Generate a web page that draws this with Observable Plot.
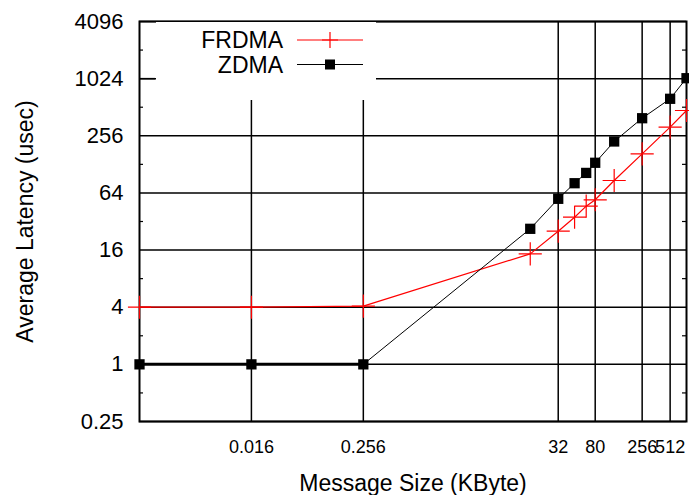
<!DOCTYPE html>
<html><head><meta charset="utf-8">
<script src="https://cdn.jsdelivr.net/npm/d3@7"></script>
<script src="https://cdn.jsdelivr.net/npm/@observablehq/plot@0.6"></script>
<style>
body{margin:0;background:#fff;}
#wrap{position:relative;width:689px;height:495px;font-family:"Liberation Sans",Arial,sans-serif;}
#legend{position:absolute;left:156px;top:22px;}
</style></head><body><div id="wrap"></div>
<script>
// Data (message size in KByte, average latency in usec)
const sizesKB = [0.001, 0.016, 0.256, 16, 32, 48, 64, 80, 128, 256, 512, 768];
const frdma = [4, 4, 4.1, 14.6, 25.3, 35.5, 46.4, 54.2, 86.5, 165, 316, 473];
const zdma = [1, 1, 1, 26.8, 55.5, 81, 104, 133, 223, 392, 628, 1035];
const xTicks = [0.016, 0.256, 32, 80, 256, 512];
const yTicks = [0.25, 1, 4, 16, 64, 256, 1024, 4096];
const yMinor = [0.5, 2, 8, 32, 128, 512, 2048];
const yMajorTickShown = [1024];
const seriesNames = ["FRDMA", "ZDMA"];
const seriesColors = ["#ff0000", "#000000"];

const W = 689, H = 495, mL = 139, mR = 3, mT = 21, mB = 74;
const fw = W - mL - mR;
const rowsF = sizesKB.map((x, i) => ({x, y: frdma[i]}));
const rowsZ = sizesKB.map((x, i) => ({x, y: zdma[i]}));
const font = "Liberation Sans, Arial, sans-serif";

const chart = Plot.plot({
  width: W, height: H,
  marginLeft: mL, marginRight: mR, marginTop: mT, marginBottom: mB,
  style: {fontFamily: font, color: "#000", background: "#fff", overflow: "visible"},
  x: {type: "log", domain: [0.001, 768], axis: null},
  y: {type: "log", base: 2, domain: [0.25, 4096]},
  marks: [
    Plot.gridX(xTicks, {stroke: "#000", strokeOpacity: 1, strokeWidth: 1.5}),
    Plot.gridY(yTicks, {stroke: "#000", strokeOpacity: 1, strokeWidth: 1.5}),
    Plot.tickY(yMinor, {y: d => d, insetRight: fw - 4, stroke: "#000", strokeWidth: 1.2}),
    Plot.tickY(yMinor, {y: d => d, insetLeft: fw - 4, stroke: "#000", strokeWidth: 1.2}),
    Plot.tickY(yMajorTickShown, {y: d => d, insetRight: fw - 16, stroke: "#000", strokeWidth: 1.5}),
    Plot.frame({stroke: "#000", strokeWidth: 2}),
    Plot.text(xTicks, {x: d => d, frameAnchor: "bottom", dy: 19, lineAnchor: "top", text: d => String(d), fontSize: 18, fill: "#000"}),
    Plot.axisY({ticks: yTicks, tickSize: 0, tickPadding: 16, tickFormat: d => String(d), fontSize: 22, label: null}),
    Plot.text(["Message Size (KByte)"], {frameAnchor: "bottom", dy: 69, lineAnchor: "bottom", fontSize: 23, fill: "#000"}),
    Plot.text(["Average Latency (usec)"], {frameAnchor: "left", dx: -114, rotate: -90, textAnchor: "middle", lineAnchor: "middle", fontSize: 23, fill: "#000"}),
    Plot.line(rowsF, {x: "x", y: "y", stroke: seriesColors[0], strokeWidth: 1.2}),
    Plot.dot(rowsF, {x: "x", y: "y", symbol: "plus", r: 7.5, stroke: seriesColors[0], strokeWidth: 1.2}),
    Plot.line(rowsZ, {x: "x", y: "y", stroke: seriesColors[1], strokeWidth: 1}),
    Plot.line(rowsZ.filter(d => d.x <= 0.256), {x: "x", y: "y", stroke: seriesColors[1], strokeWidth: 3}),
    Plot.dot(rowsZ, {x: "x", y: "y", symbol: "square", r: 5.8, fill: seriesColors[1]})
  ]
});
const wrap = document.getElementById("wrap");
wrap.appendChild(chart);

// Legend (white box in top-left of the frame)
const lg = d3.select(wrap).append("svg").attr("id", "legend")
  .attr("width", 220).attr("height", 78);
lg.append("rect").attr("width", 220).attr("height", 78).attr("fill", "#fff");
seriesNames.forEach((name, i) => {
  const cy = 18 + i * 24.5;
  lg.append("text").attr("x", 127).attr("y", cy).attr("dy", "0.35em")
    .attr("text-anchor", "end").attr("font-family", font).attr("font-size", 23)
    .attr("fill", "#000").text(name);
  lg.append("line").attr("x1", 141).attr("x2", 207).attr("y1", cy).attr("y2", cy)
    .attr("stroke", seriesColors[i]).attr("stroke-width", i === 0 ? 1.2 : 1);
  if (i === 0) {
    lg.append("path").attr("d", `M166,${cy}h16M174,${cy - 8}v16`)
      .attr("stroke", seriesColors[i]).attr("stroke-width", 1.2).attr("fill", "none");
  } else {
    lg.append("rect").attr("x", 169).attr("y", cy - 5).attr("width", 10).attr("height", 10)
      .attr("fill", seriesColors[i]);
  }
});
</script></body></html>
